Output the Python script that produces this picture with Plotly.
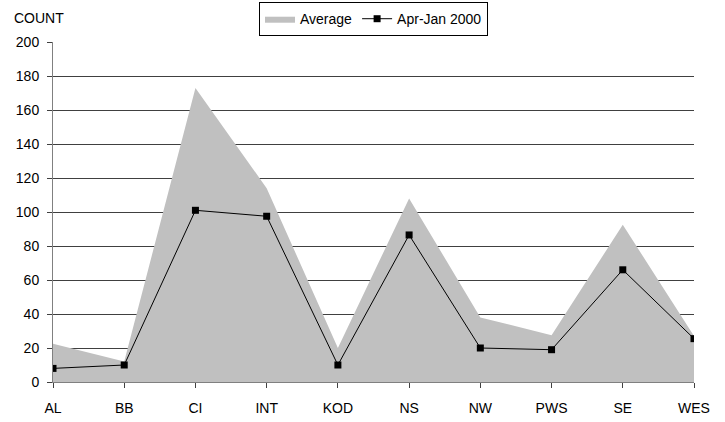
import plotly.graph_objects as go

categories = ["AL", "BB", "CI", "INT", "KOD", "NS", "NW", "PWS", "SE", "WES"]
average = [22.5, 12, 173, 114, 20, 108, 38, 27.5, 92.5, 27]
apr_jan_2000 = [8, 10, 101, 97.5, 10, 86.5, 20, 19, 66, 25.5]
y_ticks = list(range(0, 201, 20))

fig = go.Figure()
fig.add_trace(go.Scatter(
    x=categories, y=average, name="Average", mode="lines",
    fill="tozeroy", fillcolor="#C0C0C0", line=dict(width=0, color="#C0C0C0"),
))
fig.add_trace(go.Scatter(
    x=categories, y=apr_jan_2000, name="Apr-Jan 2000", mode="lines+markers",
    line=dict(color="black", width=1),
    marker=dict(symbol="square", size=7, color="black"),
))

fig.update_layout(
    width=725, height=422,
    margin=dict(l=53, r=31, t=42, b=40, autoexpand=False),
    plot_bgcolor="white", paper_bgcolor="white",
    font=dict(family="Liberation Sans, Arial, sans-serif", size=14, color="black"),
    showlegend=True,
    legend=dict(
        orientation="h", x=0.5, xanchor="center",
        yref="container", y=0.995, yanchor="top",
        bordercolor="black", borderwidth=1, bgcolor="white",
        font=dict(size=14), itemwidth=30, tracegroupgap=0,
    ),
    xaxis=dict(
        type="category", range=[0, 9], showgrid=False,
        showline=True, linecolor="#808080", linewidth=1,
        ticks="outside", ticklen=5, tickcolor="#404040",
        tickfont=dict(size=14), ticklabelstandoff=8,
    ),
    yaxis=dict(
        range=[0, 200], tickvals=y_ticks, showgrid=True, gridcolor="#404040",
        gridwidth=1, zeroline=False,
        showline=True, linecolor="#808080", linewidth=1,
        ticks="outside", ticklen=5, tickcolor="#404040",
        tickfont=dict(size=14), ticklabelstandoff=5,
    ),
    annotations=[dict(
        text="COUNT", xref="paper", yref="paper", x=-0.064, y=(382 - 18) / 340,
        xanchor="left", yanchor="middle", showarrow=False, font=dict(size=14),
    )],
)

fig.write_html("out.html")
